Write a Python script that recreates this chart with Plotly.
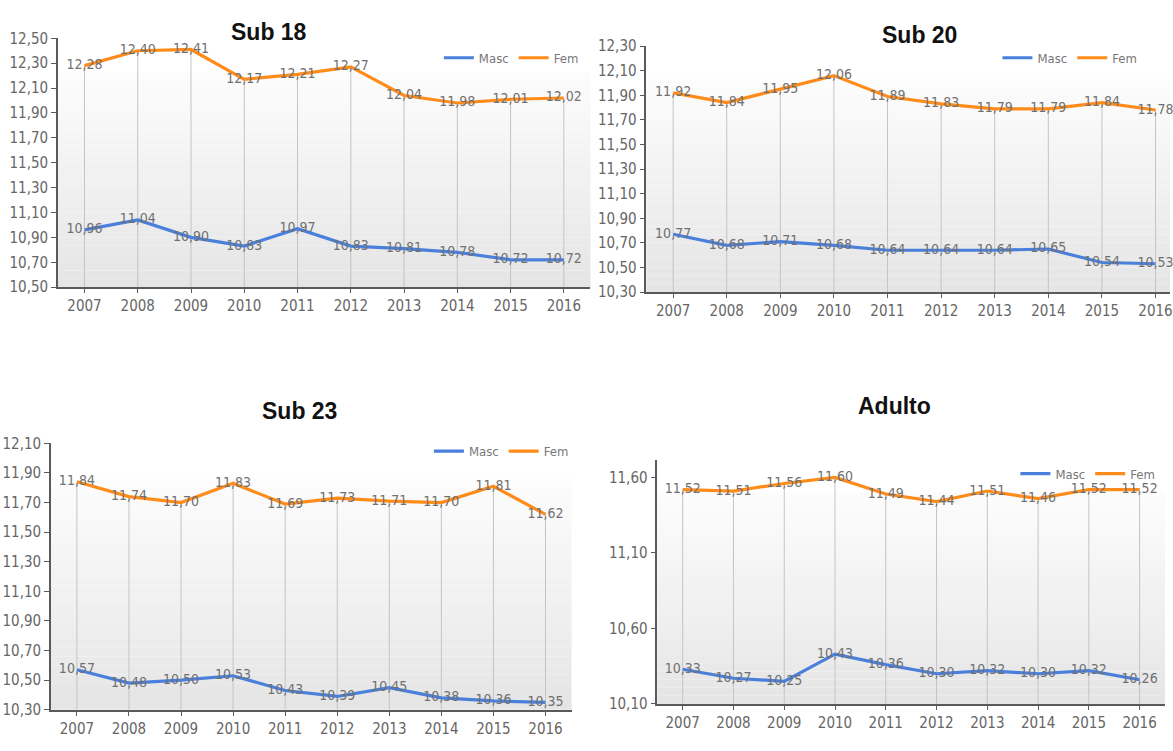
import plotly.graph_objects as go

# ---- data -------------------------------------------------------------
years = ["2007", "2008", "2009", "2010", "2011", "2012", "2013", "2014", "2015", "2016"]

sub18_masc = [10.96, 11.04, 10.90, 10.83, 10.97, 10.83, 10.81, 10.78, 10.72, 10.72]
sub18_fem = [12.28, 12.40, 12.41, 12.17, 12.21, 12.27, 12.04, 11.98, 12.01, 12.02]

sub20_masc = [10.77, 10.68, 10.71, 10.68, 10.64, 10.64, 10.64, 10.65, 10.54, 10.53]
sub20_fem = [11.92, 11.84, 11.95, 12.06, 11.89, 11.83, 11.79, 11.79, 11.84, 11.78]

sub23_masc = [10.57, 10.48, 10.50, 10.53, 10.43, 10.39, 10.45, 10.38, 10.36, 10.35]
sub23_fem = [11.84, 11.74, 11.70, 11.83, 11.69, 11.73, 11.71, 11.70, 11.81, 11.62]

adulto_masc = [10.33, 10.27, 10.25, 10.43, 10.36, 10.30, 10.32, 10.30, 10.32, 10.26]
adulto_fem = [11.52, 11.51, 11.56, 11.60, 11.49, 11.44, 11.51, 11.46, 11.52, 11.52]

titles = ["Sub 18", "Sub 20", "Sub 23", "Adulto"]
series_names = ["Masc", "Fem"]

# ---- layout helpers ---------------------------------------------------
W, H = 1173, 751
BLUE = "#4a7fdc"
ORANGE = "#ff8c1a"
NARROW = "Liberation Sans Narrow, DejaVu Sans Condensed, Arial Narrow, sans-serif"
AXIS_COL = "#5a5a5a"
TEXT_COL = "#707070"


def px_x(a, b):
    return [a / W, b / W]


def px_y(top, bottom):
    return [1 - bottom / H, 1 - top / H]


panels = [
    dict(title=titles[0], masc=sub18_masc, fem=sub18_fem,
         xdom=px_x(58, 592), ydom=px_y(30, 285), xr=[-0.5, 9.5],
         yr=[10.5, 12.5], dtick=0.2, tick0=10.5,
         tpos=(270, 24), lpos=(440, 50)),
    dict(title=titles[1], masc=sub20_masc, fem=sub20_fem,
         xdom=px_x(648, 1173), ydom=px_y(38, 290), xr=[-0.5, 9.27],
         yr=[10.3, 12.3], dtick=0.2, tick0=10.3,
         tpos=(922, 27), lpos=(1000, 50)),
    dict(title=titles[2], masc=sub23_masc, fem=sub23_fem,
         xdom=px_x(51, 573), ydom=px_y(445, 718), xr=[-0.5, 9.5],
         yr=[10.3, 12.1], dtick=0.2, tick0=10.3,
         tpos=(300, 412), lpos=(430, 453)),
    dict(title=titles[3], masc=adulto_masc, fem=adulto_fem,
         xdom=px_x(659, 1168), ydom=px_y(462, 712), xr=[-0.5, 9.5],
         yr=[10.1, 11.716], dtick=0.5, tick0=10.1,
         tpos=(897, 407), lpos=(1018, 476)),
]

fig = go.Figure()
shapes = []
annotations = []
layout_extra = {}

for i, p in enumerate(panels, start=1):
    sfx = "" if i == 1 else str(i)
    xa, ya = f"x{sfx}", f"y{sfx}"
    leg = "legend" if i == 1 else f"legend{i}"

    # drop lines from the axis up to the Fem value
    dx, dy = [], []
    for yr_, v in zip(years, p["fem"]):
        dx += [yr_, yr_, None]
        dy += [p["yr"][0], v, None]
    fig.add_trace(go.Scatter(x=dx, y=dy, mode="lines", xaxis=xa, yaxis=ya,
                             line=dict(color="#c4c4c4", width=1),
                             hoverinfo="skip", showlegend=False))

    for name, vals, col in [(series_names[0], p["masc"], BLUE),
                            (series_names[1], p["fem"], ORANGE)]:
        fig.add_trace(go.Scatter(
            x=years, y=vals, name=name, mode="lines+text",
            xaxis=xa, yaxis=ya, legend=leg,
            line=dict(color=col, width=3.2),
            text=[f"{v:.2f}".replace(".", ",") for v in vals],
            textposition="middle center",
            textfont=dict(family=NARROW, size=14, color=TEXT_COL),
            cliponaxis=False,
        ))

    # soft vertical gradient in the plot area
    nb = 30
    for k in range(nb):
        t = k / (nb - 1)
        g = int(round(255 - 26 * (1 - t) ** 1.1)) if t < 0.88 else 255
        shapes.append(dict(type="rect", xref=f"{xa} domain", yref=f"{ya} domain",
                           x0=0, x1=1, y0=k / nb, y1=(k + 1) / nb,
                           fillcolor=f"rgb({g},{g},{g})", line=dict(width=0),
                           layer="below"))

    axis_common = dict(showgrid=False, zeroline=False, showline=True,
                       linecolor=AXIS_COL, linewidth=1.5, ticks="outside",
                       tickcolor=AXIS_COL, ticklen=5,
                       tickfont=dict(family=NARROW, size=15, color="#666666"))
    layout_extra[f"xaxis{sfx}"] = dict(axis_common, domain=p["xdom"], type="category",
                                       range=p["xr"], anchor=ya, fixedrange=True,
                                       ticklen=4)
    layout_extra[f"yaxis{sfx}"] = dict(axis_common, domain=p["ydom"], range=p["yr"],
                                       dtick=p["dtick"], tick0=p["tick0"],
                                       tickformat=".2f", anchor=xa, fixedrange=True)
    layout_extra[leg] = dict(orientation="h", x=p["lpos"][0] / W, y=1 - p["lpos"][1] / H,
                             xanchor="left", yanchor="middle", bgcolor="rgba(0,0,0,0)",
                             itemwidth=30, tracegroupgap=0,
                             font=dict(family=NARROW, size=13, color="#777777"))

    annotations.append(dict(text=f"<b>{p['title']}</b>", xref="paper", yref="paper",
                            x=p["tpos"][0] / W, y=1 - p["tpos"][1] / H,
                            xanchor="center", yanchor="middle", showarrow=False,
                            font=dict(family="Liberation Sans, Arial, sans-serif",
                                      size=23, color="#111111")))

fig.update_layout(
    width=W, height=H, margin=dict(l=0, r=0, t=0, b=0),
    paper_bgcolor="white", plot_bgcolor="rgba(0,0,0,0)",
    separators=",.", shapes=shapes, annotations=annotations,
    **layout_extra,
)

fig.write_html("out.html")
